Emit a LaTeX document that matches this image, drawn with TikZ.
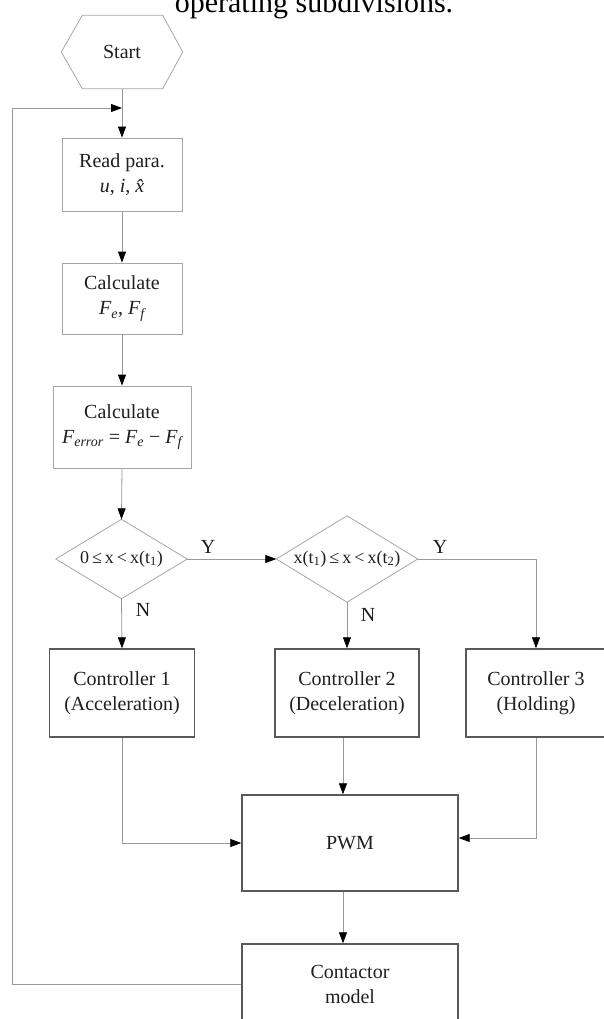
\documentclass[tikz,border=0pt]{standalone}
\usepackage{fontspec}
\setmainfont{Liberation Serif}
\usetikzlibrary{arrows.meta,calc}
\newcommand{\mysub}[1]{\textsubscript{#1}}
\newcommand{\iv}[1]{{\itshape #1}}
\begin{document}
\begin{tikzpicture}[x=1pt,y=-1pt,
  txt/.style={text=black!88, font=\fontsize{20}{25}\selectfont, align=center, inner sep=0pt},
  lightbox/.style={txt, draw=black!35, line width=0.8pt},
  darkbox/.style={txt, draw=black!65, line width=1.4pt},
  outline/.style={draw=black!35, line width=0.8pt},
  conn/.style={draw=black!40, line width=0.8pt},
  arr/.style={conn, -{Triangle[length=11pt,width=8pt,color=black]}},
  lbl/.style={text=black!88, font=\fontsize{20}{24}\selectfont, inner sep=0pt},
  dtxt/.style={text=black!88, font=\fontsize{18}{22}\selectfont, inner sep=0pt},
]
\useasboundingbox (0,0) rectangle (604,1019);

% caption fragment (cut by the page, as in the reference)
\node[text=black, font=\fontsize{30}{36}\selectfont, anchor=base, inner sep=0pt] (cap) at (314,12.5) {operating subdivisions.};

% Start hexagon
\node[txt, minimum width=121pt, minimum height=73pt] (start) at (122,52) {Start};
\draw[outline] (start.west) -- ($(start.north west)+(21,0)$) -- ($(start.north east)+(-20,0)$)
  -- (start.east) -- ($(start.south east)+(-20,0)$) -- ($(start.south west)+(21,0)$) -- cycle;

% process boxes
\node[lightbox, minimum width=120pt, minimum height=73pt] (read) at (122,174.5)
  {Read para.\\ \iv{u}, \iv{i}, \iv{\^{x}}};
\node[lightbox, minimum width=120pt, minimum height=71pt] (calc1) at (122,298.5)
  {Calculate\\ \iv{F}\mysub{\iv{e}}, \iv{F}\mysub{\iv{f}}};
\node[lightbox, minimum width=138pt, minimum height=82pt] (calc2) at (122,427)
  {Calculate\\ \iv{F}\mysub{\iv{error}} = \iv{F}\mysub{\iv{e}} − \iv{F}\mysub{\iv{f}}};

% decisions
\node[dtxt, minimum width=131pt, minimum height=79pt] (d1) at (121.5,559) {0\,≤\,x\,<\,x(t\mysub{1})};
\draw[outline] (d1.west) -- (d1.north) -- (d1.east) -- (d1.south) -- cycle;
\node[dtxt, minimum width=141pt, minimum height=86pt] (d2) at (347,559) {x(t\mysub{1})\,≤\,x\,<\,x(t\mysub{2})};
\draw[outline] (d2.west) -- (d2.north) -- (d2.east) -- (d2.south) -- cycle;

% controllers
\node[darkbox, minimum width=145pt, minimum height=88pt] (c1) at (122,693) {Controller 1\\(Acceleration)};
\node[darkbox, minimum width=144pt, minimum height=88pt] (c2) at (347,693) {Controller 2\\(Deceleration)};
\node[darkbox, minimum width=140pt, minimum height=88pt] (c3) at (536,693) {Controller 3\\(Holding)};

% PWM and contactor
\node[darkbox, minimum width=216pt, minimum height=96pt] (pwm) at (350,843) {PWM};
\node[darkbox, minimum width=216pt, minimum height=80pt] (cont) at (350,984) {Contactor\\model};

% helper coordinates
\coordinate (ax) at (343,0);
\coordinate (fbx) at (12,108);
\coordinate (join) at (122,108);

% connectors
\draw[arr] (start.south) -- (read.north);
\draw[arr] (cont.west) -| (fbx) -- (join);
\draw[arr] (read.south) -- (calc1.north);
\draw[arr] (calc1.south) -- (calc2.north);
\draw[arr] (calc2.south) -- (d1.north);
\draw[arr] (d1.east) -- (d2.west);
\draw[arr] (d1.south) -- (c1.north);
\draw[arr] (d2.south) -- (c2.north);
\draw[arr] (d2.east) -| (c3.north);
\draw[arr] (c2.south -| ax) -- (pwm.north -| ax);
\draw[arr] (c1.south) |- (pwm.west);
\draw[arr] (c3.south) |- ([yshift=5pt]pwm.east);
\draw[arr] (pwm.south -| ax) -- (cont.north -| ax);

% labels
\node[lbl] (y1) at (208,547) {Y};
\node[lbl] (n1) at (143,610) {N};
\node[lbl] (y2) at (440,547) {Y};
\node[lbl] (n2) at (368,615) {N};
\end{tikzpicture}
\end{document}
